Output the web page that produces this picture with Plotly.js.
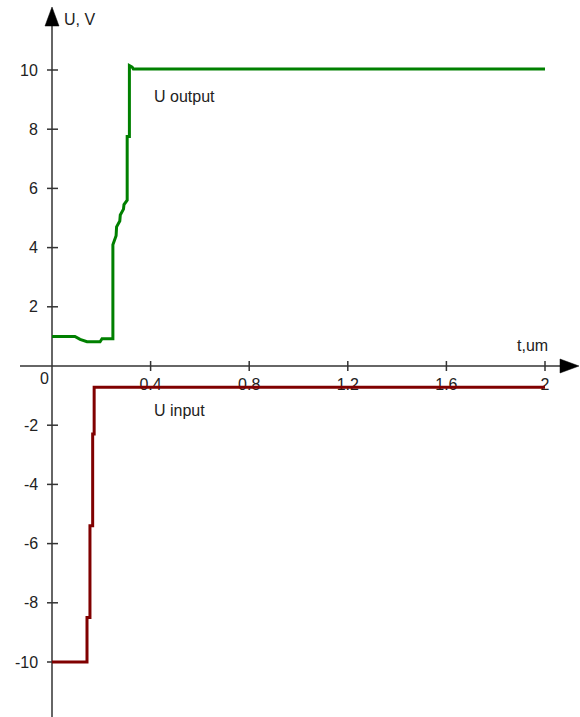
<!DOCTYPE html>
<html>
<head>
<meta charset="utf-8">
<script src="https://cdn.plot.ly/plotly-3.0.1.min.js"></script>
<style>html,body{margin:0;padding:0;background:#fff}#chart{width:580px;height:717px}</style>
</head>
<body>
<div id="chart"></div>
<script>
// Data
const outT = [0, 0.093, 0.114, 0.142, 0.195, 0.203, 0.247, 0.247, 0.26, 0.262, 0.275, 0.277, 0.29, 0.292, 0.305, 0.305, 0.314, 0.314, 0.325, 0.33, 2.0];
const outU = [1.0, 1.0, 0.9, 0.82, 0.82, 0.92, 0.92, 4.1, 4.4, 4.7, 4.9, 5.1, 5.3, 5.45, 5.6, 7.75, 7.75, 10.15, 10.1, 10.03, 10.03];
const inT = [0, 0.142, 0.142, 0.154, 0.154, 0.165, 0.165, 0.171, 0.171, 2.0];
const inU = [-10, -10, -8.5, -8.5, -5.4, -5.4, -2.3, -2.3, -0.72, -0.72];
const xTickVals = [0.4, 0.8, 1.2, 1.6, 2];
const xTickText = ["0.4", "0.8", "1.2", "1.6", "2"];
const yTickVals = [-10, -8, -6, -4, -2, 2, 4, 6, 8, 10];
const yTickText = ["-10", "-8", "-6", "-4", "-2", "2", "4", "6", "8", "10"];
const seriesNames = ["U output", "U input"];
const axisTitles = {y: "U, V", x: "t,um"};

const W = 580, H = 717;
const xRange = [-52 / 246.5, (580 - 52) / 246.5];
const yRange = [(366 - 717) / 29.6, 366 / 29.6];
const axColor = "#333333";
const font = {family: "Liberation Sans, Arial, sans-serif", size: 16, color: "#222"};

const traces = [
  {x: outT, y: outU, mode: "lines", line: {color: "#008000", width: 3}, name: seriesNames[0], hoverinfo: "skip"},
  {x: inT, y: inU, mode: "lines", line: {color: "#800000", width: 3}, name: seriesNames[1], hoverinfo: "skip"}
];

const px = v => v / W, py = v => 1 - v / H;
const shapes = [
  {type: "line", xref: "x", yref: "paper", x0: 0, x1: 0, y0: 0, y1: py(20), line: {color: axColor, width: 1.5}, layer: "below"},
  {type: "line", xref: "paper", yref: "y", x0: px(20), x1: px(566), y0: 0, y1: 0, line: {color: axColor, width: 1.5}, layer: "below"},
  {type: "path", xref: "paper", yref: "paper",
   path: `M ${px(52)} ${py(7)} L ${px(45)} ${py(26)} L ${px(59)} ${py(26)} Z`, fillcolor: "#000", line: {color: "#000", width: 0.5}},
  {type: "path", xref: "paper", yref: "paper",
   path: `M ${px(579)} ${py(366)} L ${px(560)} ${py(359)} L ${px(560)} ${py(373)} Z`, fillcolor: "#000", line: {color: "#000", width: 0.5}}
];
xTickVals.forEach(v => shapes.push({type: "line", xref: "x", yref: "y", x0: v, x1: v, ysizemode: "pixel", yanchor: 0, y0: -5, y1: 5, line: {color: axColor, width: 1.5}, layer: "below"}));
yTickVals.forEach(v => shapes.push({type: "line", xref: "x", yref: "y", y0: v, y1: v, xsizemode: "pixel", xanchor: 0, x0: -5, x1: 6, line: {color: axColor, width: 1.5}, layer: "below"}));

const annotations = [];
yTickVals.forEach((v, i) => annotations.push({x: 0, y: v, xref: "x", yref: "y", text: yTickText[i], showarrow: false, xshift: -12, font: font, xanchor: "right", yanchor: "middle"}));
annotations.push({x: 0, y: 0, xref: "x", yref: "y", text: "0", showarrow: false, xshift: -8, yshift: -12, font: font, xanchor: "center", yanchor: "middle"});
annotations.push({x: px(62), y: py(19), xref: "paper", yref: "paper", text: axisTitles.y, showarrow: false, font: font, xanchor: "left", yanchor: "middle"});
annotations.push({x: px(550), y: py(345), xref: "paper", yref: "paper", text: axisTitles.x, showarrow: false, font: font, xanchor: "right", yanchor: "middle"});
annotations.push({x: 0.405, y: 9.1, xref: "x", yref: "y", text: seriesNames[0], showarrow: false, font: font, xanchor: "left", yanchor: "middle"});
annotations.push({x: 0.405, y: -1.5, xref: "x", yref: "y", text: seriesNames[1], showarrow: false, font: font, xanchor: "left", yanchor: "middle"});

const layout = {
  width: W, height: H,
  margin: {l: 0, r: 0, t: 0, b: 0, pad: 0},
  paper_bgcolor: "#fff", plot_bgcolor: "#fff",
  showlegend: false,
  font: font,
  xaxis: {range: xRange, fixedrange: true, anchor: "free", position: 1 - 366 / H,
          showline: false, showgrid: false, zeroline: false, ticks: "", layer: "below traces",
          tickmode: "array", tickvals: xTickVals, ticktext: xTickText, tickfont: font, ticklabelstandoff: 7},
  yaxis: {range: yRange, visible: false, fixedrange: true},
  shapes: shapes,
  annotations: annotations
};
Plotly.newPlot("chart", traces, layout, {staticPlot: true, displayModeBar: false});
</script>
</body>
</html>
